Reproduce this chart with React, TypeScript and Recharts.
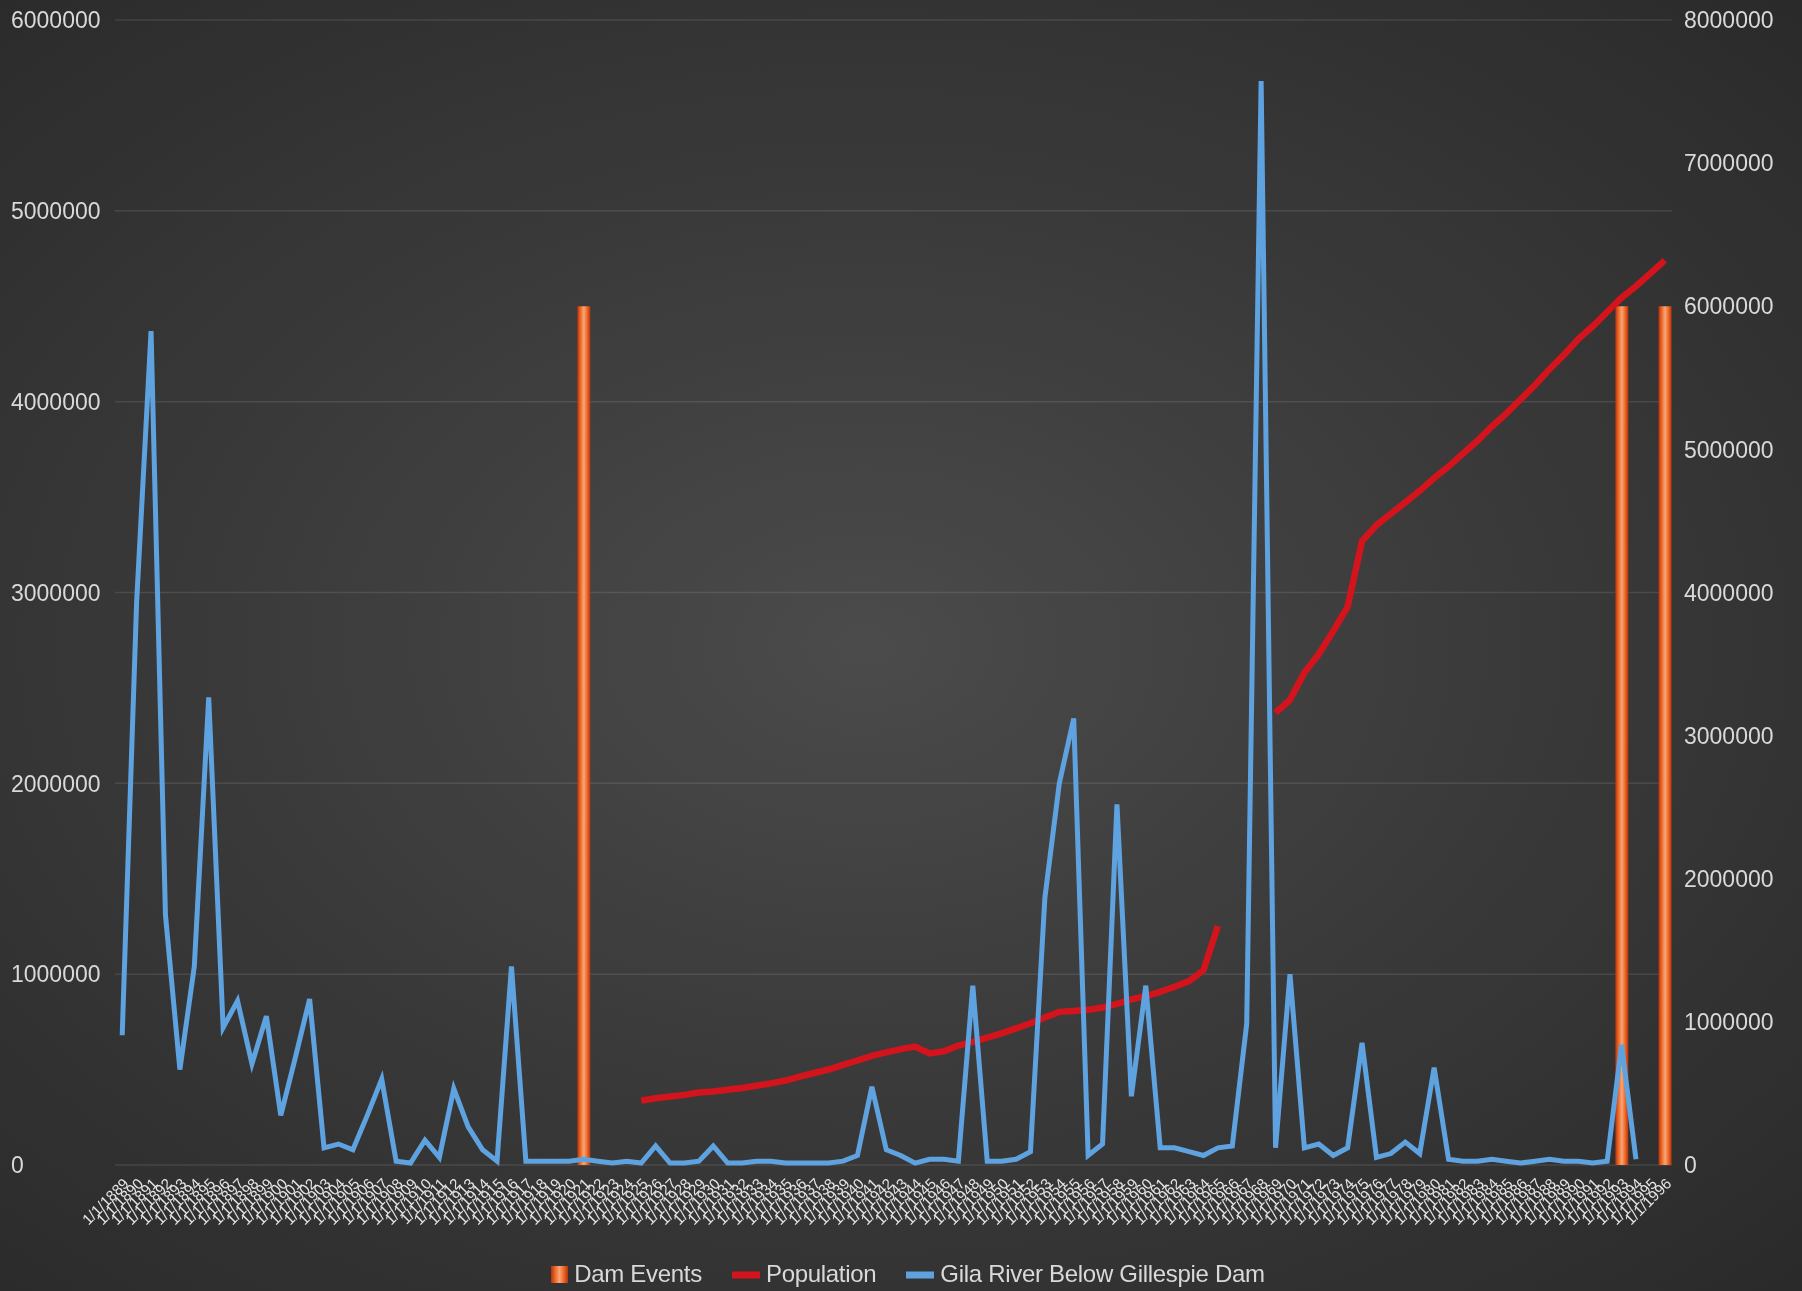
import React from 'react';
import { ComposedChart, Bar, Line, XAxis, YAxis, CartesianGrid, Legend } from 'recharts';

// category axis (one entry per year)
const years = [
  1889, 1890, 1891, 1892, 1893, 1894, 1895, 1896, 1897, 1898, 1899, 1900, 1901, 1902, 1903, 1904, 1905, 1906,
  1907, 1908, 1909, 1910, 1911, 1912, 1913, 1914, 1915, 1916, 1917, 1918, 1919, 1920, 1921, 1922, 1923, 1924,
  1925, 1926, 1927, 1928, 1929, 1930, 1931, 1932, 1933, 1934, 1935, 1936, 1937, 1938, 1939, 1940, 1941, 1942,
  1943, 1944, 1945, 1946, 1947, 1948, 1949, 1950, 1951, 1952, 1953, 1954, 1955, 1956, 1957, 1958, 1959, 1960,
  1961, 1962, 1963, 1964, 1965, 1966, 1967, 1968, 1969, 1970, 1971, 1972, 1973, 1974, 1975, 1976, 1977, 1978,
  1979, 1980, 1981, 1982, 1983, 1984, 1985, 1986, 1987, 1988, 1989, 1990, 1991, 1992, 1993, 1994, 1995, 1996,
];

// Gila River Below Gillespie Dam (left axis)
const gilaFlow = [
  680000, 2950000, 4370000, 1310000, 500000, 1040000, 2450000, 720000, 860000, 530000, 780000, 260000,
  560000, 870000, 90000, 110000, 80000, 260000, 450000, 20000, 10000, 130000, 40000, 400000,
  200000, 80000, 20000, 1040000, 20000, 20000, 20000, 20000, 30000, 20000, 10000, 20000,
  10000, 100000, 10000, 10000, 20000, 100000, 10000, 10000, 20000, 20000, 10000, 10000,
  10000, 10000, 20000, 50000, 410000, 80000, 50000, 10000, 30000, 30000, 20000, 940000,
  20000, 20000, 30000, 70000, 1400000, 2000000, 2340000, 50000, 110000, 1890000, 360000, 940000,
  90000, 90000, 70000, 50000, 90000, 100000, 740000, 5680000, 90000, 1000000, 90000, 110000,
  50000, 90000, 640000, 40000, 60000, 120000, 60000, 510000, 30000, 20000, 20000, 30000,
  20000, 10000, 20000, 30000, 20000, 20000, 10000, 20000, 630000, 30000, null, null,
];

// Population (right axis)
const population = [
  null, null, null, null, null, null, null, null, null, null, null, null,
  null, null, null, null, null, null, null, null, null, null, null, null,
  null, null, null, null, null, null, null, null, null, null, null, null,
  450000, 466000, 478000, 490000, 506000, 514000, 526000, 538000, 554000, 570000, 590000, 618000,
  643000, 667000, 700000, 730000, 763000, 787000, 810000, 827000, 780000, 795000, 835000, 860000,
  890000, 920000, 955000, 990000, 1030000, 1070000, 1076000, 1084000, 1100000, 1125000, 1157000, 1180000,
  1210000, 1245000, 1285000, 1360000, 1670000, null, null, null, 3160000, 3250000, 3440000, 3570000,
  3730000, 3900000, 4360000, 4470000, 4550000, 4630000, 4710000, 4800000, 4880000, 4970000, 5060000, 5160000,
  5250000, 5350000, 5450000, 5560000, 5660000, 5770000, 5860000, 5960000, 6060000, 6140000, 6230000, 6320000,
];

// Dam Events (right axis)
const damEventYears = [1921, 1993, 1996];
const damEventHeight = 6000000;

const leftTicks = [0, 1000000, 2000000, 3000000, 4000000, 5000000, 6000000];
const rightTicks = [0, 1000000, 2000000, 3000000, 4000000, 5000000, 6000000, 7000000, 8000000];

const legendOrder = ['Dam Events', 'Population', 'Gila River Below Gillespie Dam'];

const data = years.map((year, i) => ({
  year,
  dam: damEventYears.includes(year) ? damEventHeight : null,
  population: population[i],
  gila: gilaFlow[i],
}));

const FONT = '"Liberation Sans", Arial, sans-serif';
const TEXT = '#d9d9d9';
const BLUE = '#5fa2e0';
const RED = '#d3141c';

const LeftTick = (props: any) => {
  const { y, payload } = props;
  return (
    <text x={11} y={y} dy="0.36em" textAnchor="start" fill={TEXT} fontSize={23} fontFamily={FONT}>
      {payload.value}
    </text>
  );
};

const LegendContent = (props: any) => {
  const items = [...(props.payload || [])].sort(
    (a: any, b: any) => legendOrder.indexOf(a.value) - legendOrder.indexOf(b.value)
  );
  return (
    <div style={{ display: 'flex', justifyContent: 'center', alignItems: 'center', gap: 30, paddingLeft: 14 }}>
      {items.map((item: any) => (
        <div key={item.value} style={{ display: 'flex', alignItems: 'center', gap: 6 }}>
          {item.type === 'square' ? (
            <svg width={17} height={20}>
              <rect x={0} y={2} width={17} height={17} fill="url(#damFill)" />
            </svg>
          ) : (
            <svg width={28} height={20}>
              <line x1={0} y1={11} x2={28} y2={11} stroke={item.color} strokeWidth={7} strokeLinecap="round" />
            </svg>
          )}
          <span style={{ color: TEXT, fontSize: 24, fontFamily: FONT, letterSpacing: -0.3 }}>{item.value}</span>
        </div>
      ))}
    </div>
  );
};

export default function App() {
  return (
    <div
      style={{
        position: 'fixed',
        left: 0,
        top: 0,
        width: 1802,
        height: 1291,
        background: 'radial-gradient(ellipse at 48% 50%, #4b4b4b 0%, #3b3b3b 45%, #2a2a2a 100%)',
        fontFamily: FONT,
      }}
    >
      <ComposedChart width={1802} height={1291} data={data} margin={{ top: 20, right: 0, bottom: 0, left: 0 }} barCategoryGap={0}>
        <defs>
          <linearGradient id="damFill" x1="0" y1="0" x2="1" y2="0">
            <stop offset="0%" stopColor="#b5320f" />
            <stop offset="25%" stopColor="#ef6a26" />
            <stop offset="50%" stopColor="#f7a67a" />
            <stop offset="75%" stopColor="#ef6a26" />
            <stop offset="100%" stopColor="#b5320f" />
          </linearGradient>
        </defs>
        <CartesianGrid yAxisId="left" vertical={false} stroke="#ffffff" strokeOpacity={0.1} strokeWidth={1.5} />
        <XAxis
          dataKey="year"
          interval={0}
          tickLine={false}
          axisLine={false}
          tickSize={0}
          tickMargin={12}
          angle={-45}
          textAnchor="end"
          height={95}
          tick={{ fill: '#e6e6e6', fontSize: 15, fontFamily: FONT }}
          tickFormatter={(y) => `1/1/${y}`}
        />
        <YAxis
          yAxisId="left"
          orientation="left"
          width={115}
          domain={[0, 6000000]}
          ticks={leftTicks}
          tickLine={false}
          axisLine={false}
          tick={<LeftTick />}
        />
        <YAxis
          yAxisId="right"
          orientation="right"
          width={130}
          domain={[0, 8000000]}
          ticks={rightTicks}
          tickLine={false}
          axisLine={false}
          tickSize={0}
          tickMargin={12}
          tick={{ fill: TEXT, fontSize: 23, fontFamily: FONT, textAnchor: 'start' }}
        />
        <Legend verticalAlign="bottom" align="center" content={<LegendContent />} wrapperStyle={{ paddingBottom: 3 }} />
        <Bar
          yAxisId="right"
          dataKey="dam"
          name="Dam Events"
          fill="url(#damFill)"
          barSize={13}
          legendType="square"
          isAnimationActive={false}
        />
        <Line
          yAxisId="right"
          dataKey="population"
          name="Population"
          stroke={RED}
          strokeWidth={6.5}
          dot={false}
          legendType="plainline"
          isAnimationActive={false}
        />
        <Line
          yAxisId="left"
          dataKey="gila"
          name="Gila River Below Gillespie Dam"
          stroke={BLUE}
          strokeWidth={5}
          dot={false}
          legendType="plainline"
          isAnimationActive={false}
        />
      </ComposedChart>
    </div>
  );
}
